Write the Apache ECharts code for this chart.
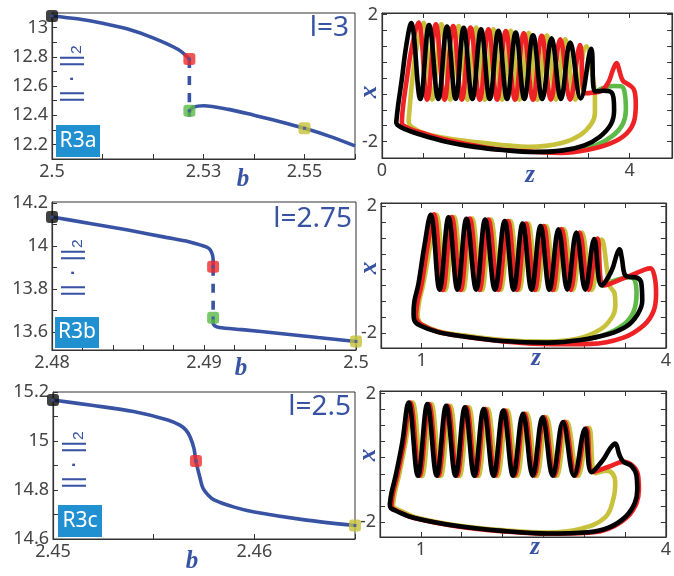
<!DOCTYPE html>
<html><head><meta charset="utf-8">
<script src="https://cdn.jsdelivr.net/npm/echarts@6/dist/echarts.min.js"></script>
<style>html,body{margin:0;padding:0;background:#fff}#c{width:674px;height:576px}</style>
</head><body><div id="c"></div>
<script>
// ---------------- DATA: left panels (b vs ||.||2) ----------------
const l0Upper = [[2.5,13.08],[2.505,13.06],[2.51,13.03],[2.515,12.99],[2.52,12.93],[2.525,12.85],[2.5272,12.785]];
const l0Dash  = [[2.5272,12.785],[2.5272,12.39]];
const l0Lower = [[2.5272,12.43],[2.528,12.455],[2.53,12.465],[2.535,12.44],[2.54,12.40],[2.545,12.357],[2.55,12.31],[2.555,12.255],[2.56,12.19]];
const l0Marks = [[2.5,13.08],[2.5272,12.785],[2.5272,12.43],[2.55,12.31]];

const l1Upper = [[2.48,14.135],[2.4825,14.105],[2.485,14.074],[2.4875,14.04],[2.489,14.02],[2.4898,14.004],[2.4903,13.99],[2.4905,13.97],[2.4906,13.94],[2.4906,13.903]];
const l1Dash  = [[2.4906,13.903],[2.4906,13.665]];
const l1Lower = [[2.4906,13.665],[2.4906,13.64],[2.4907,13.628],[2.491,13.62],[2.4925,13.61],[2.495,13.592],[2.4975,13.573],[2.5,13.555]];
const l1Marks = [[2.48,14.135],[2.4906,13.903],[2.4906,13.665],[2.5,13.555]];

const l2Curve = [[2.45,15.167],[2.452,15.145],[2.454,15.12],[2.4557,15.086],[2.4563,15.065],[2.4566,15.045],[2.4568,15.018],[2.457,14.97],[2.4571,14.918],[2.4573,14.85],[2.45745,14.807],[2.4577,14.78],[2.458,14.76],[2.459,14.73],[2.46,14.71],[2.4625,14.678],[2.465,14.655]];
const l2Marks = [[2.45,15.167],[2.4571,14.918],[2.465,14.655]];

const markColorsL0 = ['#111111','#ee2b2b','#5ab946','#c6c13a'];
const markColorsL1 = ['#111111','#ee2b2b','#5ab946','#c6c13a'];
const markColorsL2 = ['#111111','#ee2b2b','#c6c13a'];

// tick values / labels (left panels)
const l0XTicks = [2.5,2.51,2.52,2.53,2.54,2.55,2.56], l0XLabels = [2.5,2.53,2.55];
const l0YTicks = [12.2,12.3,12.4,12.5,12.6,12.7,12.8,12.9,13.0], l0YLabels = [12.2,12.4,12.6,12.8,13];
const l1XTicks = [2.48,2.482,2.484,2.486,2.488,2.49,2.492,2.494,2.496,2.498,2.5], l1XLabels = [2.48,2.49,2.5];
const l1YTicks = [13.6,13.7,13.8,13.9,14.0,14.1,14.2], l1YLabels = [13.6,13.8,14,14.2];
const l2XTicks = [2.45,2.455,2.46,2.465], l2XLabels = [2.45,2.46];
const l2YTicks = [14.6,14.7,14.8,14.9,15.0,15.1,15.2], l2YLabels = [14.6,14.8,15,15.2];

// ---------------- DATA: right panels (z vs x) ----------------
// Panel 1 (l=3)
const p1BlackHead = [[0.23,-1.39],[0.26,-0.87],[0.32,-0.04],[0.39,1.0]];
const p1BlackPeakZ = [0.47,0.76,1.05,1.32,1.60,1.88,2.16,2.44,2.74,3.04,3.38];
const p1BlackPeakX = [1.73,1.67,1.62,1.58,1.54,1.49,1.43,1.35,1.25,1.12,0.92];
const p1BlackTroughZ = [0.62,0.91,1.19,1.46,1.74,2.02,2.30,2.59,2.89,3.21];
const p1BlackTroughX = [-0.66,-0.66,-0.66,-0.66,-0.66,-0.66,-0.66,-0.66,-0.66,-0.64];
const p1BlackTail = [[3.44,-0.42],[3.58,-0.40],[3.68,-0.42],[3.74,-0.62],[3.75,-1.0],[3.70,-1.45],[3.52,-1.85],[3.27,-2.12],[2.92,-2.28],[2.45,-2.33],[1.95,-2.27],[1.5,-2.17],[1.0,-1.99],[0.6,-1.77],[0.36,-1.6],[0.25,-1.48],[0.23,-1.39]];

const p1RedHead = [[0.32,-1.38],[0.34,-0.9],[0.40,-0.05],[0.48,0.95]];
const p1RedPeakZ = [0.59,0.87,1.15,1.43,1.72,2.00,2.29,2.58,2.88,3.20];
const p1RedPeakX = [1.75,1.69,1.64,1.59,1.54,1.48,1.41,1.33,1.22,1.04];
const p1RedTroughZ = [0.73,1.01,1.29,1.58,1.86,2.15,2.44,2.73,3.04];
const p1RedTroughX = [-0.68,-0.68,-0.68,-0.68,-0.68,-0.68,-0.68,-0.68,-0.68];
const p1RedTail = [[3.28,-0.48],[3.40,-0.46],[3.55,-0.40],[3.66,-0.12],[3.73,0.25],[3.79,0.47],[3.84,0.2],[3.89,-0.08],[3.98,-0.2],[4.07,-0.36],[4.10,-0.8],[4.08,-1.3],[3.95,-1.75],[3.68,-2.07],[3.31,-2.27],[2.9,-2.36],[2.4,-2.32],[1.9,-2.25],[1.5,-2.13],[1.0,-1.93],[0.7,-1.76],[0.45,-1.6],[0.34,-1.49],[0.32,-1.38]];

const p1YellowHead = [[0.43,-1.33],[0.45,-0.87],[0.49,-0.05],[0.56,0.95]];
const p1YellowPeakZ = [0.67,0.96,1.24,1.52,1.80,2.08,2.37,2.66,2.96,3.30];
const p1YellowPeakX = [1.74,1.69,1.64,1.59,1.54,1.49,1.42,1.34,1.23,1.0];
const p1YellowTroughZ = [0.81,1.10,1.38,1.66,1.94,2.22,2.51,2.81,3.12];
const p1YellowTroughX = [-0.68,-0.68,-0.68,-0.68,-0.68,-0.68,-0.68,-0.68,-0.68];
const p1YellowTail = [[3.41,0.0],[3.44,-0.6],[3.44,-1.1],[3.38,-1.45],[3.2,-1.8],[2.9,-2.05],[2.4,-2.17],[1.9,-2.1],[1.5,-2.02],[1.05,-1.9],[0.65,-1.72],[0.5,-1.57],[0.44,-1.45],[0.43,-1.33]];

const p1Green = [[3.5,-0.38],[3.6,-0.30],[3.75,-0.25],[3.86,-0.26],[3.92,-0.45],[3.94,-1.0],[3.89,-1.45],[3.74,-1.8],[3.47,-2.11],[3.15,-2.26],[2.8,-2.33],[2.5,-2.33]];

// Panel 2 (l=2.75)
const p2BlackHead = [[0.90,-1.39],[0.91,-1.0],[0.96,-0.45],[1.03,0.7]];
const p2BlackPeakZ = [1.11,1.33,1.55,1.78,2.02,2.24,2.46,2.68,2.90,3.12];
const p2BlackPeakX = [1.73,1.65,1.60,1.58,1.53,1.45,1.37,1.27,1.17,0.96];
const p2BlackTroughZ = [1.22,1.44,1.67,1.90,2.13,2.35,2.57,2.79,3.01];
const p2BlackTroughX = [-0.63,-0.63,-0.63,-0.63,-0.63,-0.63,-0.63,-0.63,-0.63];
const p2BlackTail = [[3.21,-0.50],[3.33,-0.05],[3.40,0.50],[3.43,0.64],[3.46,0.35],[3.49,-0.12],[3.53,-0.22],[3.64,-0.25],[3.70,-0.45],[3.71,-1.0],[3.65,-1.42],[3.52,-1.78],[3.3,-2.03],[2.95,-2.22],[2.55,-2.3],[2.0,-2.25],[1.5,-2.1],[1.2,-1.97],[0.98,-1.76],[0.91,-1.6],[0.90,-1.39]];

const p2RedHead = [[0.93,-1.40],[0.95,-1.0],[1.0,-0.45],[1.07,0.7]];
const p2RedPeakZ = [1.15,1.37,1.59,1.82,2.06,2.28,2.50,2.72,2.94,3.16];
const p2RedPeakX = [1.74,1.66,1.61,1.58,1.53,1.45,1.37,1.28,1.17,0.98];
const p2RedTroughZ = [1.26,1.48,1.71,1.94,2.17,2.39,2.61,2.83,3.05];
const p2RedTroughX = [-0.64,-0.64,-0.64,-0.64,-0.64,-0.64,-0.64,-0.64,-0.64];
const p2RedTail = [[3.24,-0.50],[3.50,-0.25],[3.74,0.0],[3.81,0.04],[3.86,-0.2],[3.88,-0.75],[3.85,-1.3],[3.73,-1.75],[3.47,-2.15],[3.07,-2.34],[2.6,-2.35],[2.0,-2.26],[1.5,-2.1],[1.2,-1.96],[1.0,-1.74],[0.94,-1.58],[0.93,-1.40]];

const p2YellowHead = [[0.95,-1.38],[0.97,-1.0],[1.02,-0.45],[1.10,0.7]];
const p2YellowPeakZ = [1.18,1.40,1.62,1.85,2.09,2.31,2.53,2.75,2.97,3.21];
const p2YellowPeakX = [1.73,1.66,1.61,1.58,1.53,1.45,1.37,1.28,1.17,0.95];
const p2YellowTroughZ = [1.29,1.51,1.74,1.97,2.20,2.42,2.64,2.86,3.09];
const p2YellowTroughX = [-0.64,-0.64,-0.64,-0.64,-0.64,-0.64,-0.64,-0.64,-0.64];
const p2YellowTail = [[3.31,-0.5],[3.37,-0.75],[3.38,-1.1],[3.35,-1.45],[3.21,-1.86],[2.91,-2.18],[2.5,-2.27],[2.0,-2.22],[1.5,-2.07],[1.2,-1.94],[1.0,-1.72],[0.96,-1.57],[0.95,-1.38]];

const p2Green = [[3.23,-0.50],[3.4,-0.32],[3.57,-0.24],[3.62,-0.35],[3.64,-0.7],[3.62,-1.2],[3.52,-1.65],[3.3,-2.0],[3.0,-2.2],[2.7,-2.3],[2.4,-2.32]];

// Panel 3 (l=2.5)
const p3BlackHead = [[0.62,-1.46],[0.64,-1.1],[0.69,-0.58],[0.77,0.44]];
const p3BlackPeakZ = [0.85,1.08,1.31,1.54,1.77,2.01,2.25,2.49,2.74,3.01];
const p3BlackPeakX = [1.72,1.67,1.62,1.57,1.52,1.47,1.37,1.26,1.11,0.90];
const p3BlackTroughZ = [0.965,1.195,1.425,1.655,1.89,2.13,2.37,2.615,2.875];
const p3BlackTroughX = [-0.56,-0.56,-0.56,-0.56,-0.56,-0.56,-0.56,-0.56,-0.56];
const p3BlackTail = [[3.09,-0.45],[3.23,-0.07],[3.32,0.3],[3.38,0.44],[3.43,0.1],[3.48,-0.12],[3.58,-0.26],[3.64,-0.55],[3.65,-1.0],[3.62,-1.41],[3.51,-1.83],[3.3,-2.18],[3.05,-2.32],[2.55,-2.36],[2.05,-2.29],[1.45,-2.13],[0.91,-1.87],[0.70,-1.66],[0.63,-1.56],[0.62,-1.46]];

const p3RedHead = [[0.64,-1.47],[0.66,-1.1],[0.71,-0.58],[0.79,0.44]];
const p3RedPeakZ = [0.87,1.10,1.33,1.56,1.79,2.03,2.27,2.51,2.76,3.03];
const p3RedPeakX = [1.72,1.67,1.62,1.57,1.52,1.47,1.38,1.27,1.12,0.92];
const p3RedTroughZ = [0.985,1.215,1.445,1.675,1.91,2.15,2.39,2.635,2.895];
const p3RedTroughX = [-0.56,-0.56,-0.56,-0.56,-0.56,-0.56,-0.56,-0.56,-0.56];
const p3RedTail = [[3.11,-0.44],[3.30,-0.28],[3.48,-0.13],[3.60,-0.26],[3.66,-0.55],[3.67,-1.0],[3.64,-1.42],[3.53,-1.84],[3.31,-2.2],[3.05,-2.34],[2.55,-2.37],[2.05,-2.30],[1.45,-2.14],[0.92,-1.88],[0.72,-1.67],[0.65,-1.57],[0.64,-1.47]];

const p3YellowHead = [[0.66,-1.45],[0.68,-1.1],[0.73,-0.58],[0.81,0.44]];
const p3YellowPeakZ = [0.90,1.13,1.36,1.59,1.82,2.06,2.30,2.54,2.79,3.06];
const p3YellowPeakX = [1.72,1.67,1.62,1.57,1.52,1.47,1.38,1.27,1.12,0.93];
const p3YellowTroughZ = [1.015,1.245,1.475,1.705,1.94,2.18,2.42,2.665,2.925];
const p3YellowTroughX = [-0.57,-0.57,-0.57,-0.57,-0.57,-0.57,-0.57,-0.57,-0.57];
const p3YellowTail = [[3.14,-0.48],[3.27,-0.40],[3.35,-0.5],[3.38,-0.78],[3.36,-1.25],[3.26,-1.85],[2.95,-2.22],[2.55,-2.33],[2.05,-2.27],[1.45,-2.11],[0.93,-1.85],[0.74,-1.64],[0.67,-1.55],[0.66,-1.45]];

// tick values (right panels)
const r0XTicks = [0,0.667,1.333,2,2.667,3.333,4], r0XLabels = [0,4];
const r1XTicks = [1,1.5,2,2.5,3,3.5,4], r1XLabels = [1,4];
const rYTicks = [-2,-1.5,-1,-0.5,0,0.5,1,1.5,2], rYLabels = [-2,2];

// ---------------- styles & construction ----------------
const BLUE = '#3953a4';
const AX = '#333333';
const LBL = '#444444';
const CUR = {black:'#000000', red:'#ee2124', yellow:'#c8c13c', green:'#5dba47'};
const FONT = '"Noto Sans", "Open Sans", sans-serif';

function loop(head, pz, px, tz, tx, tail) {
  const out = head.slice();
  for (let i = 0; i < pz.length; i++) {
    out.push([pz[i], px[i]]);
    if (i < tz.length) out.push([tz[i], tx[i]]);
  }
  return out.concat(tail);
}

const grids = [
  {left:52, top:13, width:303, height:146},
  {left:52, top:202, width:304, height:148},
  {left:53, top:392, width:302, height:147},
  {left:382, top:13, width:290, height:145},
  {left:381, top:203, width:290, height:145},
  {left:380, top:391, width:287, height:146}
].map(g => Object.assign({show:true, borderColor:AX, borderWidth:1, backgroundColor:'transparent'}, g));

const fmt = v => String(+(+v).toFixed(4));
function axis(gi, min, max, ticks, labels, pos, extra) {
  return Object.assign({
    type:'value', gridIndex:gi, min:min, max:max, position:pos,
    axisLine:{show:true, onZero:false, lineStyle:{color:AX, width:1.2}},
    axisTick:{show:true, inside:true, length:5, customValues:ticks, lineStyle:{color:AX, width:1}},
    axisLabel:{show:!!labels, customValues:labels || [], formatter:fmt, color:LBL, fontSize:18, fontFamily:FONT, margin:4},
    splitLine:{show:false}
  }, extra || {});
}

const xAxis = [
  axis(0, 2.5, 2.56, l0XTicks, l0XLabels, 'bottom'),
  axis(1, 2.48, 2.5, l1XTicks, l1XLabels, 'bottom'),
  axis(2, 2.45, 2.465, l2XTicks, l2XLabels, 'bottom'),
  axis(3, 0, 4.685, r0XTicks, r0XLabels, 'bottom'),
  axis(4, 0.5, 4.0, r1XTicks, r1XLabels, 'bottom'),
  axis(5, 0.5, 4.0, r1XTicks, r1XLabels, 'bottom'),
  axis(3, 0, 4.685, r0XTicks, null, 'top'),
  axis(4, 0.5, 4.0, r1XTicks, null, 'top'),
  axis(5, 0.5, 4.0, r1XTicks, null, 'top')
];
const yAxis = [
  axis(0, 12.1, 13.1, l0YTicks, l0YLabels, 'left'),
  axis(1, 13.515, 14.205, l1YTicks, l1YLabels, 'left'),
  axis(2, 14.6, 15.2, l2YTicks, l2YLabels, 'left'),
  axis(3, -2.52, 2.05, rYTicks, rYLabels, 'left'),
  axis(4, -2.47, 2.1, rYTicks, rYLabels, 'left'),
  axis(5, -2.47, 2.08, rYTicks, rYLabels, 'left'),
  axis(3, -2.52, 2.05, rYTicks, null, 'right'),
  axis(4, -2.47, 2.1, rYTicks, null, 'right'),
  axis(5, -2.47, 2.08, rYTicks, null, 'right')
];

const series = [];
function bline(i, data, dashed) {
  series.push({type:'line', xAxisIndex:i, yAxisIndex:i, data:data, symbol:'none', smooth:0.3,
    lineStyle:{color:BLUE, width:3.6, type: dashed ? [9,8] : 'solid', cap:'butt'}, z:3, silent:true});
}
function marks(i, data, colors) {
  series.push({type:'scatter', xAxisIndex:i, yAxisIndex:i, clip:false, symbol:'roundRect', symbolSize:12, z:5, silent:true,
    data:data.map((d,k)=>({value:d, itemStyle:{color:colors[k]}}))});
  series.push({type:'scatter', xAxisIndex:i, yAxisIndex:i, clip:false, symbol:'rect', symbolSize:3, z:6, silent:true,
    data:data, itemStyle:{color:BLUE}});
}
bline(0, l0Upper); bline(0, l0Dash, true); bline(0, l0Lower); marks(0, l0Marks, markColorsL0);
bline(1, l1Upper); bline(1, l1Dash, true); bline(1, l1Lower); marks(1, l1Marks, markColorsL1);
bline(2, l2Curve); marks(2, l2Marks, markColorsL2);

function cline(i, data, color) {
  series.push({type:'line', xAxisIndex:i, yAxisIndex:i, data:data, symbol:'none', smooth:0.4,
    lineStyle:{color:color, width:4.6, join:'round', cap:'round'}, z:3, silent:true});
}
cline(3, p1Green, CUR.green);
cline(3, loop(p1YellowHead,p1YellowPeakZ,p1YellowPeakX,p1YellowTroughZ,p1YellowTroughX,p1YellowTail), CUR.yellow);
cline(3, loop(p1RedHead,p1RedPeakZ,p1RedPeakX,p1RedTroughZ,p1RedTroughX,p1RedTail), CUR.red);
cline(3, loop(p1BlackHead,p1BlackPeakZ,p1BlackPeakX,p1BlackTroughZ,p1BlackTroughX,p1BlackTail), CUR.black);

cline(4, p2Green, CUR.green);
cline(4, loop(p2YellowHead,p2YellowPeakZ,p2YellowPeakX,p2YellowTroughZ,p2YellowTroughX,p2YellowTail), CUR.yellow);
cline(4, loop(p2RedHead,p2RedPeakZ,p2RedPeakX,p2RedTroughZ,p2RedTroughX,p2RedTail), CUR.red);
cline(4, loop(p2BlackHead,p2BlackPeakZ,p2BlackPeakX,p2BlackTroughZ,p2BlackTroughX,p2BlackTail), CUR.black);

cline(5, loop(p3YellowHead,p3YellowPeakZ,p3YellowPeakX,p3YellowTroughZ,p3YellowTroughX,p3YellowTail), CUR.yellow);
cline(5, loop(p3RedHead,p3RedPeakZ,p3RedPeakX,p3RedTroughZ,p3RedTroughX,p3RedTail), CUR.red);
cline(5, loop(p3BlackHead,p3BlackPeakZ,p3BlackPeakX,p3BlackTroughZ,p3BlackTroughX,p3BlackTail), CUR.black);

// ---------------- text ----------------
const titles = ['l=3','l=2.75','l=2.5'];
const tags = ['R3a','R3b','R3c'];
const normText = '||\u2009\u200a·\u2009\u200a||₂';
const G = [];
function txt(x, y, text, font, color, align, rot) {
  G.push({type:'text', x:x, y:y, rotation:rot||0, z:10, silent:true,
    style:{text:text, font:font, fill:color, align:align||'center', verticalAlign:'middle'}});
}
const titleFont = '28px ' + FONT;
txt(349, 28, titles[0], titleFont, BLUE, 'right');
txt(352, 219, titles[1], titleFont, BLUE, 'right');
txt(351, 407, titles[2], titleFont, BLUE, 'right');
const tagBoxes = [[56,125,44,32],[55,317,44,31],[58,505,44,32]];
tagBoxes.forEach((b,k)=>{
  G.push({type:'rect', shape:{x:b[0], y:b[1], width:b[2], height:b[3]}, style:{fill:'#2090d0'}, z:9, silent:true});
  txt(b[0]+b[2]/2, b[1]+b[3]/2, tags[k], '21px ' + FONT, '#ffffff', 'center');
});
const normFont = '25px "Liberation Sans", "DejaVu Sans", sans-serif';
txt(72, 74, normText, normFont, BLUE, 'center', Math.PI/2);
txt(73, 268, normText, normFont, BLUE, 'center', Math.PI/2);
txt(74, 460, normText, normFont, BLUE, 'center', Math.PI/2);
const varFont = 'italic bold 25px "Liberation Serif", serif';
txt(243, 180, 'b', varFont, BLUE);
txt(241, 369, 'b', varFont, BLUE);
txt(192, 562, 'b', varFont, BLUE);
txt(530, 176, 'z', varFont, BLUE);
txt(536, 359, 'z', varFont, BLUE);
txt(535, 548, 'z', varFont, BLUE);
txt(370, 92, 'x', varFont, BLUE, 'center', Math.PI/2);
txt(370, 268, 'x', varFont, BLUE, 'center', Math.PI/2);
txt(369, 455, 'x', varFont, BLUE, 'center', Math.PI/2);

const chart = echarts.init(document.getElementById('c'), null, {renderer:'canvas'});
chart.setOption({animation:false, backgroundColor:'#ffffff', grid:grids, xAxis:xAxis, yAxis:yAxis, series:series, graphic:G});
</script></body></html>
